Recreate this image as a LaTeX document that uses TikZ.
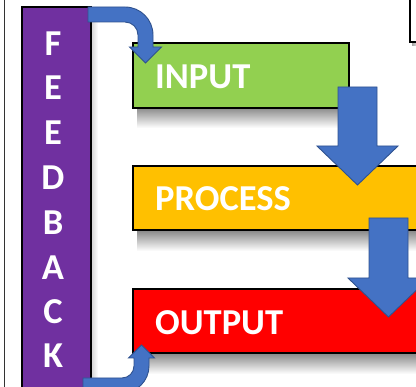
\documentclass[tikz,border=0pt]{standalone}
\usepackage{fontspec}
\setmainfont{Carlito}
\definecolor{fbpurple}{HTML}{7030A0}
\definecolor{ingreen}{HTML}{92D050}
\definecolor{procorange}{HTML}{FFC000}
\definecolor{outred}{HTML}{FF0000}
\definecolor{arrowblue}{HTML}{4472C4}
\definecolor{arrowedge}{HTML}{2F528F}
\tikzset{
  stagebox/.style={draw=black, line width=1.3pt, inner sep=0pt, outer sep=0pt},
  shadowband/.style={draw=none, top color=black!45, bottom color=white},
  blockarrow/.style={fill=arrowblue, draw=arrowedge, line width=0.9pt, line join=miter},
  lbl/.style={text=white, font=\bfseries\fontsize{36.5}{36.5}\selectfont, inner sep=0pt},
  letter/.style={lbl}
}
\begin{document}
\begin{tikzpicture}[x=1pt,y=-1pt]
\useasboundingbox (0,0) rectangle (416,387);
\clip (0,0) rectangle (416,387);
% frame lines
\draw[line width=0.9pt, black!80] (4.5,-2) -- (4.5,390);
\shade[left color=black!35, right color=white] (412,-2) rectangle (420,46);
\draw[line width=1.1pt, fill=white] (410,-5) rectangle (430,42);
% shadows
\shade[shadowband] (137,108) rectangle (356,128);
\shade[shadowband] (137,231) rectangle (420,251);
\shade[shadowband] (137,354) rectangle (420,374);
\shade[left color=black!18, right color=white] (91,14) rectangle (98,395);
% boxes
\node[stagebox, fill=ingreen, minimum width=216pt, minimum height=65pt] (input) at (241,75.5) {};
\node[stagebox, fill=procorange, minimum width=297pt, minimum height=64pt] (process) at (281.5,198) {};
\node[stagebox, fill=outred, minimum width=297pt, minimum height=64pt] (output) at (281.5,321) {};
\node[stagebox, fill=fbpurple, minimum width=69pt, minimum height=400pt] (feedback) at (56.5,207) {};
% labels
\node[lbl, anchor=west] (inputlbl) at (155,76.5) {INPUT};
\node[lbl, anchor=west] (processlbl) at (155,198.5) {PROCESS};
\node[lbl, anchor=west] (outputlbl) at (155,322.5) {OUTPUT};
\node[letter] (l1) at (53,43.5) {F};
\node[letter] (l2) at (53,88) {E};
\node[letter] (l3) at (53,133) {E};
\node[letter] (l4) at (53,177.5) {D};
\node[letter] (l5) at (53,222.5) {B};
\node[letter] (l6) at (53,267.5) {A};
\node[letter] (l7) at (53,312) {C};
\node[letter] (l8) at (53,356) {K};
% block arrows
\draw[blockarrow] (338,87) -- (377,87) -- (377,146) -- (398,146) -- (357.5,185) -- (317,146) -- (338,146) -- cycle;
\draw[blockarrow] (369,218) -- (408,218) -- (408,278) -- (429,278) -- (388.5,317) -- (348,278) -- (369,278) -- cycle;
% top bent arrow (feedback -> input)
\draw[blockarrow] (88,7) -- (125,7) .. controls (140.5,7) and (153,19.5) .. (153,35) -- (153,47)
  -- (161.5,47) -- (145.5,63) -- (129.5,47) -- (138,47) -- (138,35)
  .. controls (138,27.8) and (132.2,22) .. (125,22) -- (88,22) -- cycle;
% bottom bent arrow (output -> feedback)
\draw[blockarrow] (83,378) -- (122,378) .. controls (128.6,378) and (134,372.6) .. (134,366) -- (134,358)
  -- (128.5,358) -- (141.5,345) -- (154.5,358) -- (149,358) -- (149,366)
  .. controls (149,380.9) and (136.9,393) .. (122,393) -- (83,393) -- cycle;
\end{tikzpicture}
\end{document}
